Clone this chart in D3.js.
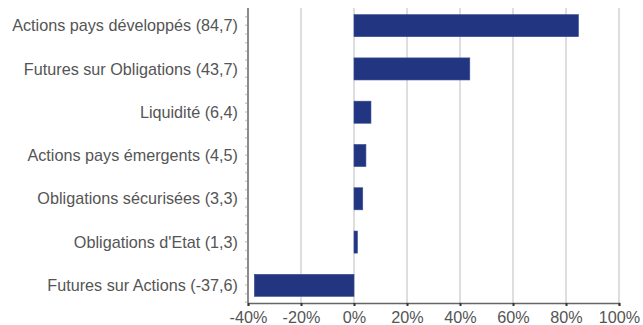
<!DOCTYPE html>
<html>
<head>
<meta charset="utf-8">
<script src="https://cdn.jsdelivr.net/npm/d3@7"></script>
<style>
  html, body { margin: 0; padding: 0; background: #fff; }
  svg { display: block; }
  text { font-family: "Liberation Sans", Arial, sans-serif; }
</style>
</head>
<body>
<svg id="chart" width="643" height="325"></svg>
<script>
// Exposition par classe d'actifs, en % de l'actif
const categories = [
  "Actions pays développés (84,7)",
  "Futures sur Obligations (43,7)",
  "Liquidité (6,4)",
  "Actions pays émergents (4,5)",
  "Obligations sécurisées (3,3)",
  "Obligations d'Etat (1,3)",
  "Futures sur Actions (-37,6)"
];
const values = [84.7, 43.7, 6.4, 4.5, 3.3, 1.3, -37.6];
const xTicks = [-40, -20, 0, 20, 40, 60, 80, 100];

const width = 643, height = 325;
const plot = { left: 248, right: 619, top: 8, bottom: 303 };
const fontSize = 16.2;

const svg = d3.select("#chart");

const x = d3.scaleLinear().domain([-40, 100]).range([plot.left, plot.right]);
const y = d3.scaleBand().domain(categories)
  .range([plot.top - 4, plot.bottom + 4])
  .paddingInner(0.49).paddingOuter(0.245);

// vertical gridlines
svg.append("g")
  .selectAll("line")
  .data(xTicks.filter(d => d !== -40))
  .join("line")
  .attr("x1", d => x(d)).attr("x2", d => x(d))
  .attr("y1", plot.top).attr("y2", plot.bottom)
  .attr("stroke", "#dedede").attr("stroke-width", 2);

// minor ticks along the category axis
const step = y.step() / 5;
const minor = d3.range(plot.top + step, plot.bottom, step);
svg.append("g")
  .selectAll("line")
  .data(minor)
  .join("line")
  .attr("x1", plot.left - 3).attr("x2", plot.left - 1)
  .attr("y1", d => d).attr("y2", d => d)
  .attr("stroke", "#cfcfcf").attr("stroke-width", 1.5);

// bars
svg.append("g")
  .selectAll("rect")
  .data(values.map((v, i) => ({ v, c: categories[i] })))
  .join("rect")
  .attr("x", d => x(Math.min(0, d.v)))
  .attr("width", d => Math.abs(x(d.v) - x(0)))
  .attr("y", d => y(d.c))
  .attr("height", y.bandwidth())
  .attr("fill", "#213580")
  .attr("stroke", "#3a4d93").attr("stroke-width", 0.6);

// x axis
const xAxis = d3.axisBottom(x)
  .tickValues(xTicks)
  .tickFormat(d => d + "%")
  .tickSize(3).tickPadding(5);
const gx = svg.append("g")
  .attr("transform", `translate(0,${plot.bottom})`)
  .call(xAxis);
gx.select(".domain").attr("stroke", "#666").attr("stroke-width", 1.5);
gx.selectAll(".tick line").attr("stroke", "#333").attr("stroke-width", 2);
gx.selectAll(".tick text")
  .attr("fill", "#555").attr("font-size", fontSize)
  .attr("font-family", "'Liberation Sans', Arial, sans-serif");

// category axis
svg.append("line")
  .attr("x1", plot.left).attr("x2", plot.left)
  .attr("y1", plot.top).attr("y2", plot.bottom)
  .attr("stroke", "#666").attr("stroke-width", 1.5);

svg.append("g")
  .selectAll("text")
  .data(categories)
  .join("text")
  .attr("x", plot.left - 10)
  .attr("y", d => y(d) + y.bandwidth() / 2)
  .attr("dy", "0.35em")
  .attr("text-anchor", "end")
  .attr("fill", "#555")
  .attr("font-size", fontSize)
  .text(d => d);
</script>
</body>
</html>
